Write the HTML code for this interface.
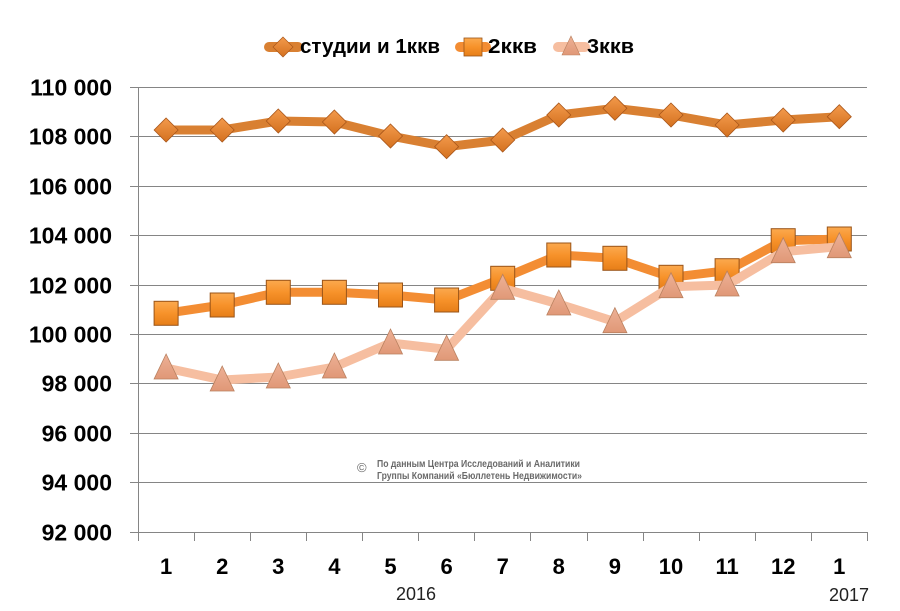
<!DOCTYPE html>
<html><head><meta charset="utf-8"><style>
html,body{margin:0;padding:0;background:#fff;}
svg{display:block;}
text{font-family:"Liberation Sans","DejaVu Sans",sans-serif;}
</style></head><body>
<svg width="900" height="611" viewBox="0 0 900 611" xmlns="http://www.w3.org/2000/svg">
<defs>
<linearGradient id="gd" x1="0" y1="0" x2="0" y2="1"><stop offset="0" stop-color="#F39A4C"/><stop offset="1" stop-color="#D4711F"/></linearGradient>
<linearGradient id="gs" x1="0" y1="0" x2="0" y2="1"><stop offset="0" stop-color="#FBA94E"/><stop offset="0.5" stop-color="#F7922A"/><stop offset="1" stop-color="#E67E18"/></linearGradient>
<linearGradient id="gt" x1="0" y1="0" x2="0" y2="1"><stop offset="0" stop-color="#EDB196"/><stop offset="1" stop-color="#E09877"/></linearGradient>
<g id="dia"><polygon points="0,-12 12,0 0,12 -12,0" fill="url(#gd)" stroke="#A9561A" stroke-width="0.8"/></g>
<g id="sq"><rect x="-12" y="-12" width="24" height="24" fill="url(#gs)" stroke="#9A5418" stroke-width="1"/></g>
<g id="tri"><polygon points="0,-14 12,11 -12,11" fill="url(#gt)" stroke="#B9805F" stroke-width="0.8"/></g>
</defs>
<rect width="900" height="611" fill="#fff"/>

<!-- gridlines -->
<g stroke="#858585" stroke-width="1">
<line x1="130" y1="87.5" x2="867" y2="87.5"/>
<line x1="130" y1="136.5" x2="867" y2="136.5"/>
<line x1="130" y1="186.5" x2="867" y2="186.5"/>
<line x1="130" y1="235.5" x2="867" y2="235.5"/>
<line x1="130" y1="285.5" x2="867" y2="285.5"/>
<line x1="130" y1="334.5" x2="867" y2="334.5"/>
<line x1="130" y1="383.5" x2="867" y2="383.5"/>
<line x1="130" y1="433.5" x2="867" y2="433.5"/>
<line x1="130" y1="482.5" x2="867" y2="482.5"/>
<line x1="130" y1="532.5" x2="867" y2="532.5"/>
<line x1="138.5" y1="87" x2="138.5" y2="541"/>
<line x1="194.5" y1="532" x2="194.5" y2="541"/>
<line x1="250.5" y1="532" x2="250.5" y2="541"/>
<line x1="306.5" y1="532" x2="306.5" y2="541"/>
<line x1="362.5" y1="532" x2="362.5" y2="541"/>
<line x1="418.5" y1="532" x2="418.5" y2="541"/>
<line x1="474.5" y1="532" x2="474.5" y2="541"/>
<line x1="530.5" y1="532" x2="530.5" y2="541"/>
<line x1="587.5" y1="532" x2="587.5" y2="541"/>
<line x1="643.5" y1="532" x2="643.5" y2="541"/>
<line x1="699.5" y1="532" x2="699.5" y2="541"/>
<line x1="755.5" y1="532" x2="755.5" y2="541"/>
<line x1="811.5" y1="532" x2="811.5" y2="541"/>
<line x1="867.5" y1="532" x2="867.5" y2="541"/>
</g>

<!-- y labels -->
<g font-size="23" font-weight="bold" fill="#000" text-anchor="end">
<text x="112" y="95.5">110 000</text>
<text x="112" y="144.5">108 000</text>
<text x="112" y="194.5">106 000</text>
<text x="112" y="243.5">104 000</text>
<text x="112" y="293.5">102 000</text>
<text x="112" y="342.5">100 000</text>
<text x="112" y="391.5">98 000</text>
<text x="112" y="441.5">96 000</text>
<text x="112" y="490.5">94 000</text>
<text x="112" y="540.5">92 000</text>
</g>

<!-- x labels -->
<g font-size="22" font-weight="bold" fill="#000" text-anchor="middle">
<text x="166.1" y="574">1</text>
<text x="222.2" y="574">2</text>
<text x="278.3" y="574">3</text>
<text x="334.4" y="574">4</text>
<text x="390.5" y="574">5</text>
<text x="446.6" y="574">6</text>
<text x="502.7" y="574">7</text>
<text x="558.8" y="574">8</text>
<text x="614.9" y="574">9</text>
<text x="671" y="574">10</text>
<text x="727.1" y="574">11</text>
<text x="783.2" y="574">12</text>
<text x="839.3" y="574">1</text>
</g>
<g font-size="18" fill="#222" text-anchor="middle">
<text x="416" y="600">2016</text>
<text x="849" y="601">2017</text>
</g>

<!-- watermark -->
<g fill="#6a6a6a">
<text x="357" y="472" font-size="13">©</text>
<text x="377" y="467" font-size="10" font-weight="bold" textLength="203" lengthAdjust="spacingAndGlyphs">По данным Центра Исследований и Аналитики</text>
<text x="377" y="479" font-size="10" font-weight="bold" textLength="205" lengthAdjust="spacingAndGlyphs">Группы Компаний «Бюллетень Недвижимости»</text>
</g>

<!-- series 1 -->
<polyline fill="none" stroke="#D98032" stroke-width="9" stroke-linejoin="round" points="166.1,130 222.2,130 278.3,121 334.4,122 390.5,136 446.6,146.7 502.7,140 558.8,115 614.9,108.3 671,115 727.1,125 783.2,120 839.3,116.7"/>
<use href="#dia" x="166.1" y="130"/><use href="#dia" x="222.2" y="130"/><use href="#dia" x="278.3" y="121"/><use href="#dia" x="334.4" y="122"/><use href="#dia" x="390.5" y="136"/><use href="#dia" x="446.6" y="146.7"/><use href="#dia" x="502.7" y="140"/><use href="#dia" x="558.8" y="115"/><use href="#dia" x="614.9" y="108.3"/><use href="#dia" x="671" y="115"/><use href="#dia" x="727.1" y="125"/><use href="#dia" x="783.2" y="120"/><use href="#dia" x="839.3" y="116.7"/>

<!-- series 2 -->
<polyline fill="none" stroke="#F38D33" stroke-width="9" stroke-linejoin="round" points="166.1,313.3 222.2,305 278.3,292.3 334.4,292.3 390.5,295 446.6,300 502.7,278.3 558.8,255 614.9,258.3 671,277.3 727.1,270.7 783.2,240.7 839.3,239"/>
<use href="#sq" x="166.1" y="313.3"/><use href="#sq" x="222.2" y="305"/><use href="#sq" x="278.3" y="292.3"/><use href="#sq" x="334.4" y="292.3"/><use href="#sq" x="390.5" y="295"/><use href="#sq" x="446.6" y="300"/><use href="#sq" x="502.7" y="278.3"/><use href="#sq" x="558.8" y="255"/><use href="#sq" x="614.9" y="258.3"/><use href="#sq" x="671" y="277.3"/><use href="#sq" x="727.1" y="270.7"/><use href="#sq" x="783.2" y="240.7"/><use href="#sq" x="839.3" y="239"/>

<!-- series 3 -->
<polyline fill="none" stroke="#F6BEA0" stroke-width="9" stroke-linejoin="round" points="166.1,368 222.2,380 278.3,377 334.4,367 390.5,343 446.6,349.3 502.7,288.3 558.8,304 614.9,321.7 671,286.7 727.1,285 783.2,251.7 839.3,246.7"/>
<use href="#tri" x="166.1" y="368"/><use href="#tri" x="222.2" y="380"/><use href="#tri" x="278.3" y="377"/><use href="#tri" x="334.4" y="367"/><use href="#tri" x="390.5" y="343"/><use href="#tri" x="446.6" y="349.3"/><use href="#tri" x="502.7" y="288.3"/><use href="#tri" x="558.8" y="304"/><use href="#tri" x="614.9" y="321.7"/><use href="#tri" x="671" y="286.7"/><use href="#tri" x="727.1" y="285"/><use href="#tri" x="783.2" y="251.7"/><use href="#tri" x="839.3" y="246.7"/>

<!-- legend -->
<line x1="269" y1="47" x2="298" y2="47" stroke="#D98032" stroke-width="10" stroke-linecap="round"/>
<polygon points="283,37 293,47 283,57 273,47" fill="url(#gd)" stroke="#A9561A" stroke-width="0.7"/>
<text x="300" y="53" font-size="20" font-weight="bold" fill="#000" textLength="140" lengthAdjust="spacingAndGlyphs">студии и 1ккв</text>
<line x1="460" y1="47" x2="486" y2="47" stroke="#F38D33" stroke-width="10" stroke-linecap="round"/>
<rect x="464" y="38" width="18" height="18" fill="url(#gs)" stroke="#9A5418" stroke-width="0.8"/>
<text x="488" y="53" font-size="20" font-weight="bold" fill="#000" textLength="49" lengthAdjust="spacingAndGlyphs">2ккв</text>
<line x1="558" y1="47" x2="585" y2="47" stroke="#F6BEA0" stroke-width="10" stroke-linecap="round"/>
<polygon points="571,36 580,55 562,55" fill="url(#gt)" stroke="#B9805F" stroke-width="0.6"/>
<text x="587" y="53" font-size="20" font-weight="bold" fill="#000" textLength="47" lengthAdjust="spacingAndGlyphs">3ккв</text>
</svg>
</body></html>
